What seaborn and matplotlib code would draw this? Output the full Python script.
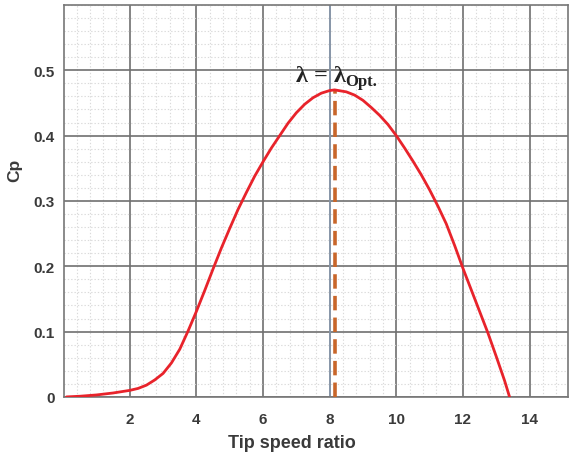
import matplotlib
matplotlib.use("Agg")
import matplotlib.pyplot as plt
import seaborn as sns
import pandas as pd
from matplotlib.ticker import MultipleLocator, FixedLocator

# Data
tsr = [0.1, 0.5, 1.0, 1.5, 2.0, 2.25, 2.5, 2.75, 3.0, 3.25, 3.5, 3.75, 4.0, 4.25, 4.5,
       4.75, 5.0, 5.25, 5.5, 5.75, 6.0, 6.25, 6.5, 6.75, 7.0, 7.25, 7.5, 7.75, 8.0,
       8.15, 8.5, 8.75, 9.0, 9.25, 9.5, 9.75, 10.0, 10.25, 10.5, 10.75, 11.0, 11.25,
       11.5, 11.75, 12.0, 12.25, 12.5, 12.75, 13.0, 13.25, 13.4]
cp = [0.0, 0.001, 0.003, 0.006, 0.010, 0.013, 0.018, 0.026, 0.036, 0.052, 0.073, 0.101,
      0.131, 0.163, 0.196, 0.228, 0.258, 0.287, 0.313, 0.338, 0.360, 0.381, 0.400,
      0.419, 0.435, 0.448, 0.458, 0.465, 0.469, 0.470, 0.467, 0.462, 0.454, 0.443,
      0.431, 0.417, 0.400, 0.381, 0.361, 0.340, 0.317, 0.292, 0.265, 0.232, 0.197,
      0.164, 0.131, 0.098, 0.062, 0.025, 0.0]
x_ticks = [2, 4, 6, 8, 10, 12, 14]
y_ticks = [0, 0.1, 0.2, 0.3, 0.4, 0.5]
y_tick_labels = ["0", "0.1", "0.2", "0.3", "0.4", "0.5"]
lambda_opt = 8.15
cp_max = 0.47

sns.set_theme(style="white")
plt.rcParams['font.family'] = ['Liberation Sans', 'DejaVu Sans']

fig = plt.figure(figsize=(5.73, 4.60), dpi=100)
ax = fig.add_axes([0.112, 0.135, 0.879, 0.852])

df = pd.DataFrame({"tsr": tsr, "cp": cp})

ax.set_xlim(0.03, 15.15)
ax.set_ylim(0, 0.6)
ax.xaxis.set_major_locator(FixedLocator(x_ticks))
ax.yaxis.set_major_locator(FixedLocator(y_ticks))
ax.set_yticklabels(y_tick_labels)
ax.xaxis.set_minor_locator(MultipleLocator(0.4))
ax.yaxis.set_minor_locator(MultipleLocator(0.02))

ax.grid(which="minor", color="#dadada", linestyle=(0, (1.2, 1.8)), linewidth=0.8, zorder=0)
ax.grid(which="major", color="#707070", linestyle="-", linewidth=1.2, zorder=1)
ax.set_axisbelow(True)

ax.axvline(8.0, color="#8a9bb0", linewidth=1.2, zorder=2)
ax.plot([lambda_opt, lambda_opt], [0, cp_max], color="#c8662a", linewidth=2.6,
        linestyle=(0, (4, 2)), zorder=3)

sns.lineplot(data=df, x="tsr", y="cp", ax=ax, color="#e8232b", linewidth=2.0, zorder=4)

t1 = ax.text(7.0, 0.483, "λ = λ", fontsize=17.5, ha="left", va="baseline",
             family=["Liberation Serif", "DejaVu Serif"], fontweight="bold",
             color="#222222", zorder=5)
ax.annotate("Opt.", xy=(1.0, 0.0), xycoords=t1, xytext=(-0.5, 1.0),
            textcoords="offset points", fontsize=12,
            family=["Liberation Serif", "DejaVu Serif"], fontweight="bold",
            color="#222222", ha="left", va="baseline", zorder=5)

for s in ax.spines.values():
    s.set_color("#777777")
    s.set_linewidth(1.2)

ax.tick_params(axis="both", which="both", length=0, labelsize=11, labelcolor="#3a3a3a")
ax.tick_params(axis="y", pad=7)
ax.tick_params(axis="x", pad=11)
for lbl in ax.get_xticklabels() + ax.get_yticklabels():
    lbl.set_fontweight("bold")

ax.set_xlabel("Tip speed ratio", fontsize=13, fontweight="bold", color="#3a3a3a", labelpad=5)
ax.xaxis.set_label_coords(0.452, -0.095)
ax.set_ylabel("Cp", fontsize=12.5, fontweight="bold", color="#3a3a3a")
ax.yaxis.set_label_coords(-0.083, 0.58)

fig.savefig("out.png", dpi=100)
